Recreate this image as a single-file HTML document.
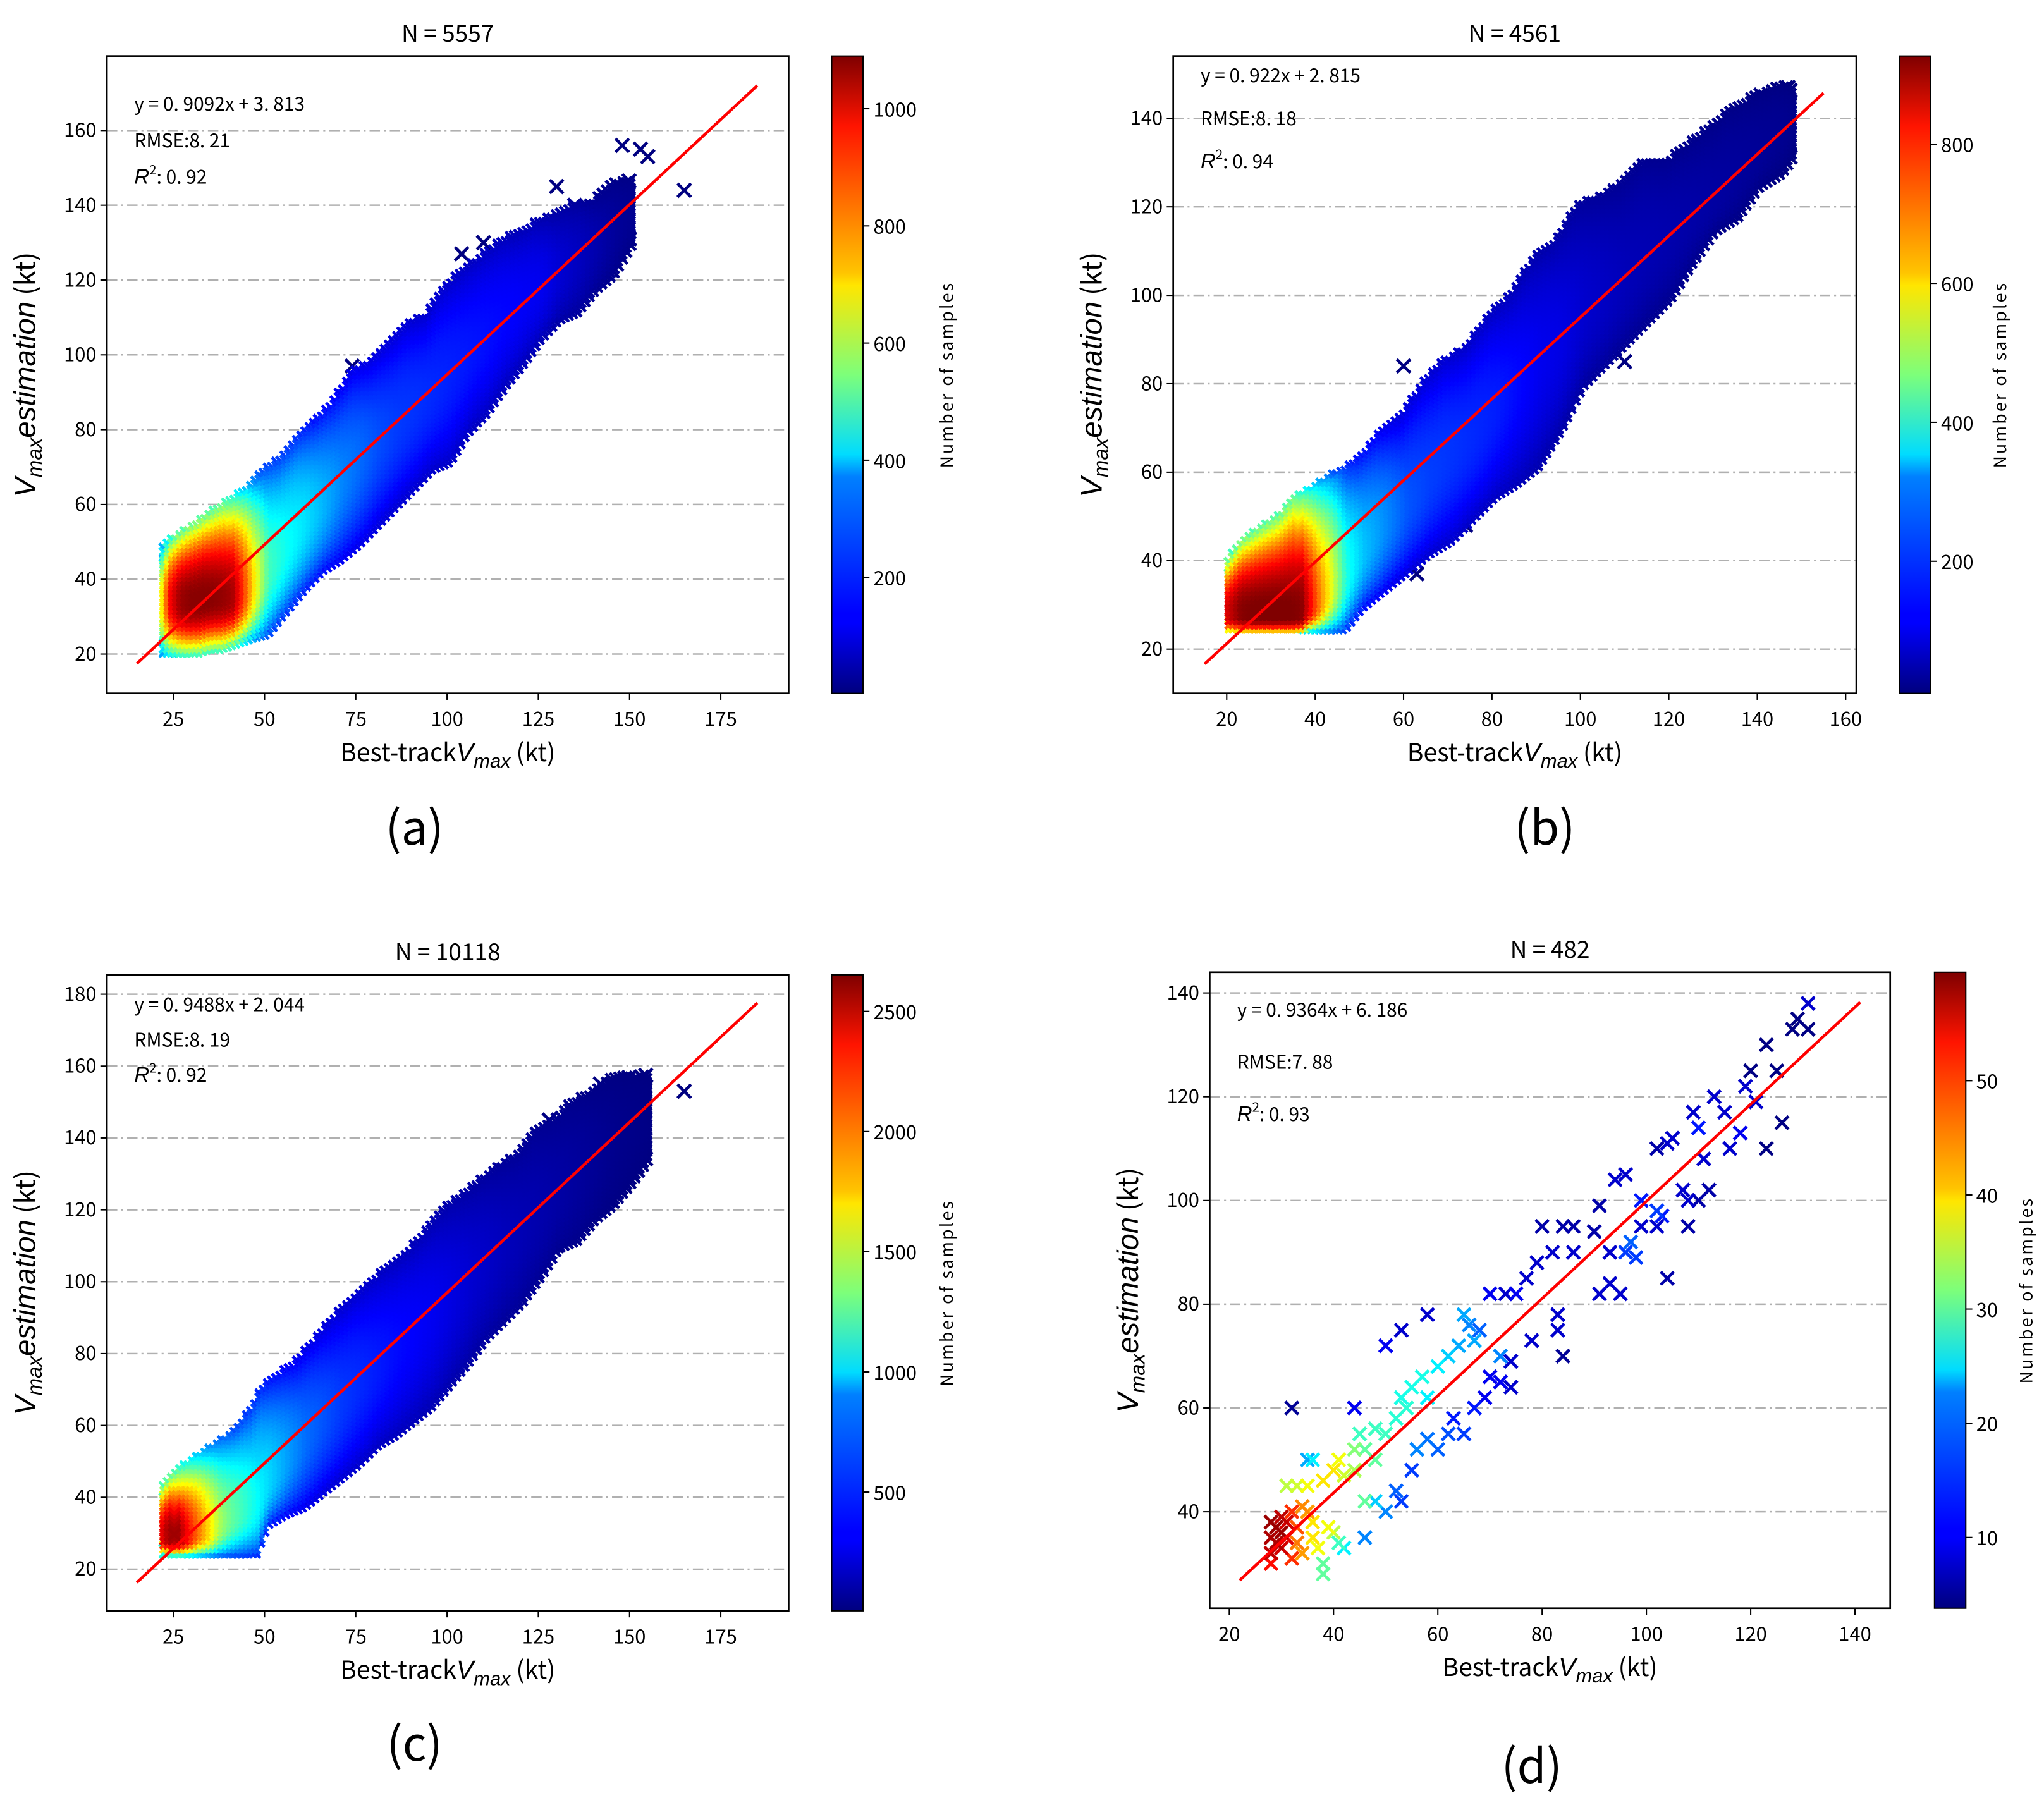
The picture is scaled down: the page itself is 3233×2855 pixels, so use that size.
<!DOCTYPE html>
<html><head><meta charset="utf-8"><style>
html,body{margin:0;padding:0;background:#fff}
svg{display:block}
text{font-family:"WenQuanYi Zen Hei","Noto Sans CJK SC","Liberation Sans",sans-serif;fill:#000}
.it{font-family:"Liberation Sans","DejaVu Sans",sans-serif;font-style:italic}
</style></head><body>
<svg id="fig" width="3233" height="2855" viewBox="0 0 1568 1385" preserveAspectRatio="none" xmlns="http://www.w3.org/2000/svg">
<defs>
<linearGradient id="jet" x1="0" y1="1" x2="0" y2="0">
<stop offset="0" stop-color="#00007f"/><stop offset="0.11" stop-color="#0000ff"/><stop offset="0.125" stop-color="#0000ff"/>
<stop offset="0.34" stop-color="#0080ff"/><stop offset="0.375" stop-color="#00dcff"/><stop offset="0.5" stop-color="#7dff7a"/>
<stop offset="0.64" stop-color="#ffe600"/><stop offset="0.66" stop-color="#ffc400"/><stop offset="0.89" stop-color="#ff1400"/><stop offset="1" stop-color="#7f0000"/>
</linearGradient>
</defs>
</svg>
<script>
// ---------- data ----------
const aX   = [23,25,28,31,34,37,40,43,46,50,55,60,65,70,75,80,85,90,95,100,105,110,115,120,125,130,135,140,145,150];
const aLo  = [21,21,21,21,22,22,23,24,25,26,32,38,43,46,50,55,60,65,70,72,80,85,92,98,105,110,112,118,122,130];
const aHi  = [48,50,52,54,56,58,60,62,64,68,72,78,82,88,95,98,103,108,110,118,122,126,130,132,135,137,140,140,145,147];
const aCtr = [34,34,34,34,35,35,35,36,38,42,48,55,60,66,72,77,81,86,90,95,100,105,110,114,118,122,126,130,134,138];
const aPeak= [700,950,1060,1080,1080,1070,1050,900,700,480,420,380,330,280,250,220,200,190,180,170,160,150,140,130,120,90,70,50,30,20];
const aOutX=[148,153,155,165,130,135,110,104,74,92,45,120,140,150];
const aOutY=[156,155,153,144,145,140,130,127,97,68,52,108,122,131];
const bX   = [21,24,27,30,33,36,40,43,46,50,55,60,65,70,75,80,85,90,95,100,105,110,115,120,125,130,135,140,145,148];
const bLo  = [25,25,25,25,25,25,25,25,25,30,34,38,42,45,50,55,58,62,70,80,85,90,95,100,108,115,118,125,128,132];
const bHi  = [40,44,46,48,50,54,56,58,60,62,68,72,80,85,88,95,100,108,112,120,122,125,130,130,134,138,142,145,147,147];
const bCtr = [28,28,28,28,28,28,30,33,36,42,48,52,58,64,68,74,80,85,90,96,100,104,110,114,118,122,128,132,138,140];
const bPeak= [850,920,930,930,930,920,700,550,380,300,250,200,180,170,160,150,130,110,100,80,70,60,55,50,45,40,35,30,25,20];
const bOutX=[75,74,147,130,135,107,60,63,110,124];
const bOutY=[85,48,147,136,133,88,84,37,85,108];
const cX   = [23,25,28,31,34,37,40,43,47,50,55,60,65,70,75,80,85,90,95,100,105,110,115,120,125,130,135,140,145,150,155];
const cLo  = [25,25,25,25,25,25,25,25,25,33,36,38,42,46,50,55,58,62,66,72,78,85,90,95,102,110,112,118,122,128,135];
const cHi  = [43,45,48,50,52,54,56,58,64,70,74,78,84,90,95,100,104,108,114,120,124,128,132,135,142,145,150,152,156,157,158];
const cCtr = [29,29,29,30,30,32,34,36,38,44,50,56,62,66,72,76,81,86,91,96,101,106,110,115,120,125,130,135,140,143,146];
const cPeak= [2400,2600,2300,2000,1700,1400,1250,1150,1000,900,750,620,550,480,440,400,360,330,300,260,220,190,160,140,120,100,80,60,40,30,20];
const cOutX=[165,142,130,94,128];
const cOutY=[153,155,110,75,145];
const dX=[28,28,28,28,29,29,30,30,30,31,31,32,32,33,33,34,34,35,36,36,37,38,38,39,40,41,42,46,31,33,35,36,38,40,41,42,44,44,45,46,48,48,50,52,53,54,55,57,58,60,62,64,66,68,65,67,46,48,50,52,53,55,56,58,60,62,63,65,67,69,70,72,74,74,72,70,73,75,78,77,79,80,82,84,83,83,84,86,86,91,93,95,90,91,94,96,93,96,97,98,99,99,102,102,103,104,102,104,105,107,108,108,109,110,110,111,112,113,115,116,118,119,120,121,123,123,125,126,128,129,131,131,32,44,50,53,58,35];
const dY=[38,35,32,30,37,34,39,36,33,38,35,40,31,37,34,41,32,40,38,35,33,30,28,37,36,34,33,35,45,45,45,50,46,48,50,47,52,48,55,52,50,56,55,58,62,60,64,66,62,68,70,72,76,75,78,73,42,42,40,44,42,48,52,54,52,55,58,55,60,62,66,65,64,69,70,82,82,82,73,85,88,95,90,95,78,75,70,95,90,82,84,82,94,99,104,105,90,90,92,89,95,100,98,95,97,85,110,111,112,102,100,95,117,114,100,108,102,120,117,110,113,122,125,119,110,130,125,115,133,135,133,138,60,60,72,75,78,50];
const dV=[58,57,56,52,58,57,56,58,55,55,54,50,50,48,46,45,44,44,40,40,38,30,30,38,35,28,24,18,35,36,38,24,40,40,38,36,32,34,28,30,30,28,28,27,26,27,26,26,24,24,22,20,18,16,20,20,30,22,18,16,14,14,18,17,16,15,12,14,12,10,10,10,8,8,18,10,8,10,8,8,8,6,8,6,8,8,5,6,8,8,8,8,6,6,8,8,8,14,16,14,8,12,14,8,12,6,6,8,8,8,8,6,8,12,6,8,6,8,8,8,10,8,4,8,4,4,4,4,4,4,4,8,5,10,10,8,8,20];
const aXT=[25,50,75,100,125,150,175], aYT=[20,40,60,80,100,120,140,160], aCT=[200,400,600,800,1000];
const bXT=[20,40,60,80,100,120,140,160], bYT=[20,40,60,80,100,120,140], bCT=[200,400,600,800];
const cXT=[25,50,75,100,125,150,175], cYT=[20,40,60,80,100,120,140,160,180], cCT=[500,1000,1500,2000,2500];
const dXT=[20,40,60,80,100,120,140], dYT=[40,60,80,100,120,140], dCT=[10,20,30,40,50];

// ---------- rendering ----------
const NS="http://www.w3.org/2000/svg";
const svg=document.getElementById('fig');
function mk(tag,attrs,parent){const e=document.createElementNS(NS,tag);for(const k in attrs)e.setAttribute(k,attrs[k]);(parent||svg).appendChild(e);return e;}
function jet(v){v=Math.max(0,Math.min(1,v));
  const r=Math.max(0,Math.min(1,1.5-Math.abs(4*v-3))),g=Math.max(0,Math.min(1,1.5-Math.abs(4*v-2))),b=Math.max(0,Math.min(1,1.5-Math.abs(4*v-1)));
  return 'rgb('+Math.round(r*255)+','+Math.round(g*255)+','+Math.round(b*255)+')';}
function xPath(px,py,s){return 'M'+(px-s)+' '+(py-s)+'L'+(px+s)+' '+(py+s)+'M'+(px-s)+' '+(py+s)+'L'+(px+s)+' '+(py-s);}

function panel(cfg){
  const g=mk('g',{});
  
  
  const sx=v=>cfg.x0+(v-cfg.xmin)/(cfg.xmax-cfg.xmin)*cfg.w;
  const sy=v=>cfg.y0+cfg.h-(v-cfg.ymin)/(cfg.ymax-cfg.ymin)*cfg.h;
  cfg.yt.forEach(t=>{const l=mk('line',{x1:cfg.x0,x2:cfg.x0+cfg.w,y1:sy(t),y2:sy(t),stroke:'#b0b0b0','stroke-width':1.2,'stroke-dasharray':'8,3,1.5,3'},g);
    });
  const marks=[];
  if(cfg.cols){
    const c=cfg.cols,n=c.x.length;
    const stepX=3.2/(cfg.w/(cfg.xmax-cfg.xmin)), stepY=3.2/(cfg.h/(cfg.ymax-cfg.ymin));
    for(let xv=c.x[0];xv<=c.x[n-1]+0.001;xv+=stepX){
      let i=0;while(i<n-2&&c.x[i+1]<xv)i++;
      const f=Math.max(0,Math.min(1,(xv-c.x[i])/(c.x[i+1]-c.x[i])));
      const L=k=>k[i]+(k[i+1]-k[i])*f;
      const lo=L(c.lo),hi=L(c.hi),ct=L(c.ctr),pk=L(c.peak);
      for(let yv=lo;yv<=hi+0.001;yv+=stepY){
        const half=yv<ct?Math.max(ct-lo,4):Math.max(hi-ct,4);
        const t=Math.min(1,Math.abs(yv-ct)/half);
        const val=Math.max(cfg.vmin,pk*(1-0.55*Math.pow(t,2)));
        marks.push([sx(xv),sy(yv),val,t>0.9?5.2:4.6]);
      }
    }
    c.ox.forEach((xv,k)=>marks.push([sx(xv),sy(c.oy[k]),cfg.vmin,5.2]));
  } else {
    cfg.pts.x.forEach((xv,k)=>marks.push([sx(xv),sy(cfg.pts.y[k]),cfg.pts.v[k],5]));
  }
  marks.sort((a,b)=>a[2]-b[2]);
  marks.forEach(m=>{const p=mk('path',{d:xPath(m[0],m[1],m[3]),stroke:jet((m[2]-cfg.vmin)/(cfg.vmax-cfg.vmin)),'stroke-width':2.3,fill:'none'},g);
    });
  const rl=mk('line',{x1:sx(cfg.lx[0]),y1:sy(cfg.a*cfg.lx[0]+cfg.b),x2:sx(cfg.lx[1]),y2:sy(cfg.a*cfg.lx[1]+cfg.b),stroke:'#ff0000','stroke-width':2.2},g);
  
  const fr=mk('rect',{x:cfg.x0,y:cfg.y0,width:cfg.w,height:cfg.h,fill:'none',stroke:'#000','stroke-width':1.3},g);
  
  cfg.xt.forEach(t=>{mk('line',{x1:sx(t),x2:sx(t),y1:cfg.y0+cfg.h,y2:cfg.y0+cfg.h+5,stroke:'#000','stroke-width':1},g);
    const tx=mk('text',{x:sx(t),y:cfg.y0+cfg.h+25,'text-anchor':'middle','font-size':15},g);tx.textContent=t;
    });
  cfg.yt.forEach(t=>{mk('line',{x1:cfg.x0-5,x2:cfg.x0,y1:sy(t),y2:sy(t),stroke:'#000','stroke-width':1},g);
    const tx=mk('text',{x:cfg.x0-8,y:sy(t)+5,'text-anchor':'end','font-size':15},g);tx.textContent=t;
    });
  const ti=mk('text',{x:cfg.x0+cfg.w/2,y:cfg.y0-11,'text-anchor':'middle','font-size':18},g);ti.textContent='N = '+cfg.n;
  
  cfg.ann.forEach((a,k)=>{const t=mk('text',{x:cfg.x0+21,y:a[1],'font-size':14.5},g);
    if(k===2){t.innerHTML='<tspan class="it" font-size="16">R</tspan><tspan dy="-7" font-size="10">2</tspan><tspan dy="7">: 0. '+a[0]+'</tspan>';}
    else t.textContent=a[0];
    });
  const xl=mk('text',{x:cfg.x0+cfg.w/2,y:cfg.y0+cfg.h+52,'text-anchor':'middle','font-size':19},g);
  xl.innerHTML='Best-track<tspan class="it" font-size="20">V</tspan><tspan class="it" font-size="15" dy="5">max</tspan><tspan dy="-5"> (kt)</tspan>';
  
  const yl=mk('text',{x:0,y:0,'text-anchor':'middle','font-size':21,transform:'translate('+(cfg.x0-cfg.ylx)+','+(cfg.y0+cfg.h/2)+') rotate(-90)'},g);
  yl.innerHTML='<tspan class="it" font-size="23">V</tspan><tspan class="it" font-size="16" dy="5">max</tspan><tspan class="it" font-size="23" dy="-5">estimation</tspan><tspan> (kt)</tspan>';
  
  const cb=mk('rect',{x:cfg.cbx,y:cfg.y0,width:24,height:cfg.h,fill:'url(#jet)',stroke:'#000','stroke-width':1},g);
  
  cfg.ct.forEach(t=>{const y=cfg.y0+cfg.h-(t-cfg.vmin)/(cfg.vmax-cfg.vmin)*cfg.h;
    mk('line',{x1:cfg.cbx+24,x2:cfg.cbx+29,y1:y,y2:y,stroke:'#000','stroke-width':1},g);
    const tx=mk('text',{x:cfg.cbx+32,y:y+6,'font-size':15},g);tx.textContent=t;
    });
  const cl=mk('text',{x:0,y:0,'text-anchor':'middle','font-size':13,'letter-spacing':'1.5',transform:'translate('+cfg.clx+','+(cfg.y0+cfg.h/2)+') rotate(-90)'},g);
  cl.textContent='Number  of  samples';
  
  const pl=mk('text',{x:cfg.lab[0],y:cfg.lab[1],'text-anchor':'middle','font-size':36,'font-family':'Liberation Sans'},g);
  pl.textContent='('+cfg.id+')';
  
}

panel({id:'a',n:5557,x0:82,y0:43,w:523,h:489,xmin:6.8,xmax:193.6,ymin:9.5,ymax:179.9,vmin:2,vmax:1090,
  cols:{x:aX,lo:aLo,hi:aHi,ctr:aCtr,peak:aPeak,ox:aOutX,oy:aOutY},xt:aXT,yt:aYT,ct:aCT,a:0.9092,b:3.813,lx:[15,185],
  ann:[['y = 0. 9092x + 3. 813',85],['RMSE:8. 21',113],['92',141]],ylx:55,cbx:638,clx:731,lab:[318,648]});
panel({id:'b',n:4561,x0:900,y0:43,w:524,h:489,xmin:7.9,xmax:162.4,ymin:10,ymax:154.1,vmin:10,vmax:927,
  cols:{x:bX,lo:bLo,hi:bHi,ctr:bCtr,peak:bPeak,ox:bOutX,oy:bOutY},xt:bXT,yt:bYT,ct:bCT,a:0.922,b:2.815,lx:[15,155],
  ann:[['y = 0. 922x + 2. 815',63],['RMSE:8. 18',96],['94',129]],ylx:55,cbx:1457,clx:1539,lab:[1185,648]});
panel({id:'c',n:10118,x0:82,y0:748,w:523,h:488,xmin:6.8,xmax:193.6,ymin:8.4,ymax:185.4,vmin:6,vmax:2652,
  cols:{x:cX,lo:cLo,hi:cHi,ctr:cCtr,peak:cPeak,ox:cOutX,oy:cOutY},xt:cXT,yt:cYT,ct:cCT,a:0.9488,b:2.044,lx:[15,185],
  ann:[['y = 0. 9488x + 2. 044',776],['RMSE:8. 19',803],['92',830]],ylx:55,cbx:638,clx:731,lab:[318,1351]});
panel({id:'d',n:482,x0:928,y0:746,w:522,h:488,xmin:16.25,xmax:146.75,ymin:21.4,ymax:144,vmin:3.8,vmax:59.5,
  pts:{x:dX,y:dY,v:dV},xt:dXT,yt:dYT,ct:dCT,a:0.9364,b:6.186,lx:[22,141],
  ann:[['y = 0. 9364x + 6. 186',780],['RMSE:7. 88',820],['93',860]],ylx:55,cbx:1484,clx:1559,lab:[1175,1368]});
</script>
</body></html>
